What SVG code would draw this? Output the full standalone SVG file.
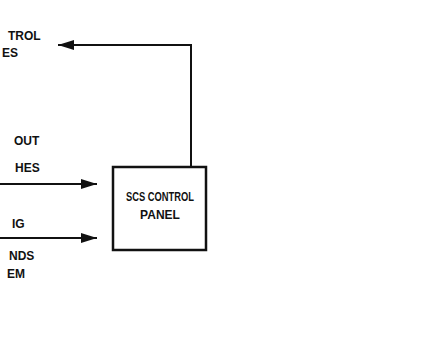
<svg xmlns="http://www.w3.org/2000/svg" width="440" height="338" viewBox="0 0 440 338">
<style>
text{font-family:"Liberation Sans",Arial,sans-serif;font-weight:bold;font-size:12px;fill:#111}
.ln{stroke:#111;stroke-width:2;fill:none}
</style>
<defs>
<marker id="ah2" markerWidth="16" markerHeight="10" refX="16" refY="5" orient="auto" markerUnits="userSpaceOnUse">
<path d="M0,0 L16,5 L0,10 z" fill="#111"/>
</marker>
</defs>
<rect width="440" height="338" fill="#fff"/>
<g id="labels">
<text x="8" y="40">TROL</text>
<text x="2" y="57">ES</text>
<text x="14" y="145">OUT</text>
<text x="15" y="172">HES</text>
<text x="12" y="228">IG</text>
<text x="9" y="260">NDS</text>
<text x="7" y="278">EM</text>
</g>
<g id="panel">
<rect x="113" y="167" width="93" height="83" fill="#fff" stroke="#111" stroke-width="2.5"/>
<text x="160" y="201" text-anchor="middle" font-size="12" textLength="68" lengthAdjust="spacingAndGlyphs">SCS CONTROL</text>
<text x="160" y="219" text-anchor="middle" font-size="12">PANEL</text>
</g>
<g id="connectors">
<path class="ln" d="M191,167 L191,45 L58,45" marker-end="url(#ah2)"/>
<path class="ln" d="M0,184 L97,184" marker-end="url(#ah2)"/>
<path class="ln" d="M0,238 L97,238" marker-end="url(#ah2)"/>
</g>
</svg>
